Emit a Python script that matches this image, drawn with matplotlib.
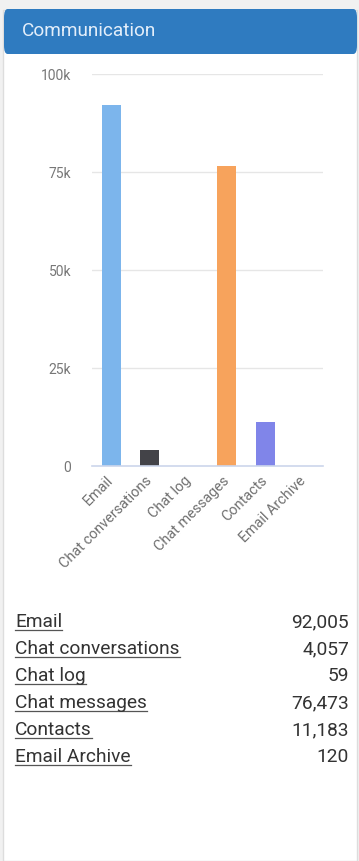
import matplotlib
matplotlib.use("Agg")
import matplotlib.pyplot as plt
from matplotlib.patches import FancyBboxPatch, Rectangle
from matplotlib.ticker import FuncFormatter
from matplotlib.lines import Line2D

plt.rcParams['font.family'] = ['Roboto', 'DejaVu Sans']

categories = ["Email", "Chat conversations", "Chat log", "Chat messages",
              "Contacts", "Email Archive"]
counts = [92005, 4057, 59, 76473, 11183, 120]
colors = ["#7cb5ec", "#434348", "#90ed7d", "#f7a35c", "#8085e9", "#f15c80"]
yticks = [0, 25000, 50000, 75000, 100000]

W, H = 359, 861
fig = plt.figure(figsize=(W / 100, H / 100), dpi=100)
fig.patch.set_facecolor("#f1f1f1")


def fx(px):
    return px / W


def fy(py):
    return 1 - py / H


# card body and header, kept behind the axes
fig.patches.append(Rectangle((fx(3), fy(861)), fx(354), fy(10) - fy(861),
                             transform=fig.transFigure, facecolor="white",
                             edgecolor="#dddddd", lw=1.0, zorder=-2))
fig.patches.append(FancyBboxPatch((fx(4), fy(54)), fx(353), fy(9) - fy(54),
                                  boxstyle="round,pad=0,rounding_size=0.01",
                                  transform=fig.transFigure, facecolor="#2f7bc0",
                                  edgecolor="none", zorder=-1))
fig.text(fx(22), fy(31), "Communication", color="#e3eefa", fontsize=13.7,
         va="center", ha="left")

ax = fig.add_axes([fx(92), fy(466), fx(323) - fx(92), fy(74) - fy(466)])
ax.set_facecolor("none")
x = range(len(categories))
ax.bar(x, counts, width=0.5, color=colors, zorder=3)
ax.set_xlim(-0.5, len(categories) - 0.5)
ax.set_ylim(0, 100000)
ax.set_yticks(yticks)
ax.yaxis.set_major_formatter(FuncFormatter(lambda v, p: "0" if v == 0 else f"{int(v/1000)}k"))
for v in yticks[1:]:
    ax.axhline(v, color="#e6e6e6", lw=1, zorder=1)
ax.axhline(0, color="#ccd6eb", lw=1.2, zorder=4, clip_on=False)
for s in ax.spines.values():
    s.set_visible(False)
ax.tick_params(axis="y", length=0, pad=15, labelsize=10, labelcolor="#777777")
ax.tick_params(axis="x", length=0, pad=9, labelsize=10.4, labelcolor="#707070")
ax.set_xticks(list(x))
ax.set_xticklabels(categories, rotation=45, ha="right", va="center",
                   rotation_mode="anchor")

# summary table with underlined category names
renderer = fig.canvas.get_renderer()
row_y = 620
for name, val in zip(categories, counts):
    t = fig.text(fx(15), fy(row_y + 7), name, color="#333333", fontsize=13.8,
                 ha="left", va="baseline")
    fig.text(fx(349), fy(row_y + 7), f"{val:,}", color="#333333", fontsize=13.8,
             ha="right", va="baseline")
    bb = t.get_window_extent(renderer)
    uy = fy(row_y + 9.5)
    fig.lines.append(Line2D([bb.x0 / W, bb.x1 / W], [uy, uy],
                            transform=fig.transFigure, color="#555555", lw=0.9))
    row_y += 27

fig.savefig("out.png", dpi=100, facecolor=fig.get_facecolor())
